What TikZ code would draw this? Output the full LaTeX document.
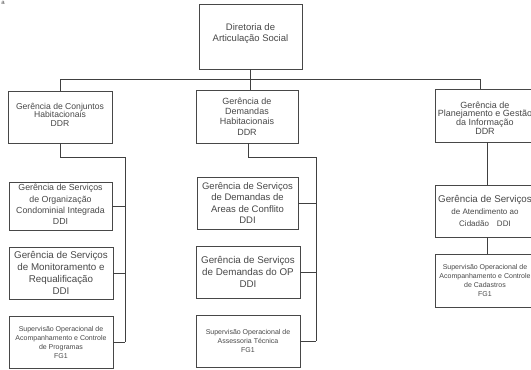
\documentclass[tikz,border=0pt]{standalone}
\usepackage{fontspec}
\setmainfont{Liberation Sans}
\begin{document}
\begin{tikzpicture}[x=1pt,y=-1pt,
  box/.style={draw=black!72, line width=0.8pt, rectangle, inner sep=0pt, align=center, text=black!72},
  lab/.style={align=center, text=black!72, inner sep=0pt},
  conn/.style={draw=black!75, line width=0.8pt},
  fa/.style={font=\fontsize{9.5}{11.5}\selectfont},
  fb/.style={font=\fontsize{8.6}{8.6}\selectfont},
  fc/.style={font=\fontsize{9}{10.3}\selectfont},
  fd/.style={font=\fontsize{9}{8.8}\selectfont},
  fe/.style={font=\fontsize{8.8}{11.4}\selectfont},
  ff/.style={font=\fontsize{9.8}{12.2}\selectfont},
  fs/.style={font=\fontsize{7}{9}\selectfont}]
\useasboundingbox (0,0) rectangle (531,370);
\clip (0,0) rectangle (531,370);
\node[font=\fontsize{6}{6}\selectfont, text=black!70, inner sep=0pt] (mark) at (3,3) {a};
% top
\node[box, minimum width=103pt, minimum height=65pt, label={[lab, fa, yshift=3pt, name=topt]center:{Diretoria de\\Articulação Social}}] (top) at (250.5,36.5) {};
% level 1
\node[box, minimum width=104pt, minimum height=52pt, label={[lab, fb, yshift=2.5pt, name=L0t]center:{Gerência de Conjuntos\\Habitacionais\\DDR}}] (L0) at (60,117) {};
\node[box, fc, minimum width=102pt, minimum height=53pt] (M0) at (247,116.5) {Gerência de\\Demandas\\Habitacionais\\DDR};
\node[box, minimum width=100pt, minimum height=53pt, label={[lab, fd, yshift=-2.5pt, name=R0t]center:{Gerência de\\Planejamento e Gestão\\da Informação\\DDR}}] (R0) at (485,115.5) {};
% bus
\coordinate (bl) at (60,79);
\coordinate (br) at (480,79);
\coordinate (bm) at (250,79);
\draw[conn] (top.south -| bm) -- (bm |- M0.north);
\draw[conn] (bl) -- (br);
\draw[conn] (bl) -- (L0.north);
\draw[conn] (br) -- (br |- R0.north);
% left column
\node[box, minimum width=103pt, minimum height=48pt, label={[lab, fe, yshift=1.5pt, name=L1t]center:{Gerência de Serviços\\de Organização\\Condominial Integrada\\DDI}}] (L1) at (60.5,206) {};
\node[box, ff, minimum width=104pt, minimum height=52pt] (L2) at (61,273) {Gerência de Serviços\\de Monitoramento e\\Requalificação\\DDI};
\node[box, fs, minimum width=104pt, minimum height=52pt] (L3) at (61,342) {Supervisão Operacional de\\Acompanhamento e Controle\\de Programas\\FG1};
\coordinate (lk) at (60,157);
\coordinate (lv) at (125,157);
\draw[conn] (L0.south) -- (lk) -- (lv) -- (lv |- L3.east);
\draw[conn] (L1.east) -- (L1.east -| lv);
\draw[conn] (L2.east) -- (L2.east -| lv);
\draw[conn] (L3.east) -- (L3.east -| lv);
% middle column
\node[box, fa, minimum width=101pt, minimum height=52pt] (M1) at (247.5,203) {Gerência de Serviços\\de Demandas de\\Areas de Conflito\\DDI};
\node[box, ff, minimum width=104pt, minimum height=52pt] (M2) at (248,272) {Gerência de Serviços\\de Demandas do OP\\DDI};
\node[box, fs, minimum width=104pt, minimum height=52pt] (M3) at (248,341) {Supervisão Operacional de\\Assessoria Técnica\\FG1};
\coordinate (mk) at (248,157);
\coordinate (mv) at (316,157);
\draw[conn] (M0.south -| mk) -- (mk) -- (mv) -- (mv |- M3.east);
\draw[conn] (M1.east) -- (M1.east -| mv);
\draw[conn] (M2.east) -- (M2.east -| mv);
\draw[conn] (M3.east) -- (M3.east -| mv);
% right column
\node[box, minimum width=100pt, minimum height=52pt] (R1) at (485,211) {{\fontsize{9.8}{11}\selectfont Gerência de Serviços}\\{\fontsize{8}{11}\selectfont de Atendimento ao}\\{\fontsize{8}{11}\selectfont Cidadão\quad DDI}};
\node[box, fs, minimum width=100pt, minimum height=53pt] (R2) at (485,280.5) {Supervisão Operacional de\\Acompanhamento e Controle\\de Cadastros\\FG1};
\coordinate (rv) at (487.5,150);
\draw[conn] (rv |- R0.south) -- (rv |- R1.north);
\draw[conn] (rv |- R1.south) -- (rv |- R2.north);
\end{tikzpicture}
\end{document}
